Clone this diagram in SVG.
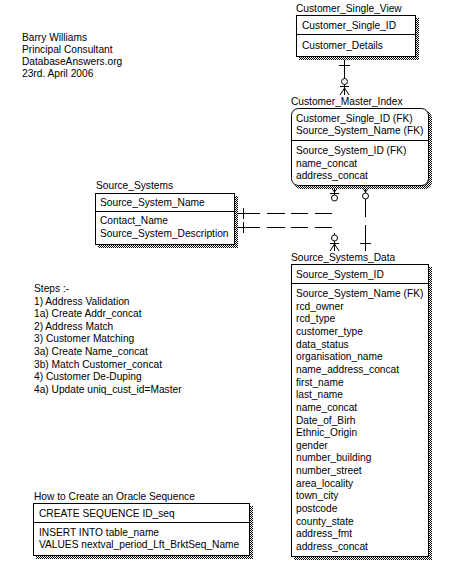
<svg xmlns="http://www.w3.org/2000/svg" width="465" height="576" viewBox="0 0 465 576">
<defs>
<pattern id="dither" width="2" height="2" patternUnits="userSpaceOnUse">
<rect width="2" height="2" fill="#fff"/>
<rect width="1" height="1" fill="#000"/>
<rect x="1" y="1" width="1" height="1" fill="#000"/>
</pattern>
</defs>
<style>
text { font-family: "Liberation Sans", Arial, sans-serif; font-size: 10.2px; fill: #000; }
.box { fill: #fff; stroke: #000; stroke-width: 1; }
.shadow { fill: url(#dither); }
.div { stroke: #000; stroke-width: 1; }
.conn path, .conn line { stroke: #000; stroke-width: 1; fill: none; }
.conn circle { stroke: #000; stroke-width: 1; fill: #fff; }
</style>
<rect width="465" height="576" fill="#fff"/>

<g id="note-author">
<text x="22" y="41">Barry Williams</text>
<text x="22" y="53">Principal Consultant</text>
<text x="22" y="65">DatabaseAnswers.org</text>
<text x="22" y="77">23rd. April 2006</text>
</g>

<g id="note-steps">
<text x="34" y="292">Steps :-</text>
<text x="34" y="304.6">1) Address Validation</text>
<text x="34" y="317.2">1a) Create Addr_concat</text>
<text x="34" y="329.8">2) Address Match</text>
<text x="34" y="342.4">3) Customer Matching</text>
<text x="34" y="355">3a) Create Name_concat</text>
<text x="34" y="367.6">3b) Match Customer_concat</text>
<text x="34" y="380.2">4) Customer De-Duping</text>
<text x="34" y="392.8">4a) Update uniq_cust_id=Master</text>
</g>

<g class="conn" id="connectors">
<!-- Customer_Single_View to Customer_Master_Index -->
<path d="M344.5 57 V95"/>
<path d="M339 65.5 H350"/>
<circle cx="344.5" cy="81.5" r="3"/>
<path d="M340 86.5 H349"/>
<path d="M344.5 88 L340 95 M344.5 88 L349 95"/>
<!-- Source_Systems to Customer_Master_Index -->
<path d="M236 213.5 H260 M267 213.5 H285 M291 213.5 H308 M315 213.5 H332"/>
<path d="M243.5 208 V219"/>
<path d="M334.5 186 V201"/>
<path d="M334.5 192 L330 186 M334.5 192 L339 186"/>
<path d="M330 193.5 H339"/>
<circle cx="334.5" cy="198" r="3"/>
<!-- Source_Systems to Source_Systems_Data -->
<path d="M236 227.5 H260 M267 227.5 H285 M291 227.5 H308 M315 227.5 H332"/>
<path d="M243.5 222 V233"/>
<path d="M334.5 233 V251"/>
<circle cx="334.5" cy="238" r="3"/>
<path d="M330 243.5 H339"/>
<path d="M334.5 244 L330 251 M334.5 244 L339 251"/>
<!-- Source_Systems_Data to Customer_Master_Index -->
<path d="M365.5 186 V193 M365.5 199 V217 M365.5 225 V251"/>
<path d="M365.5 192 L361 186 M365.5 192 L370 186"/>
<circle cx="365.5" cy="196" r="3"/>
<path d="M360 243.5 H371"/>
</g>

<g id="Customer_Single_View">
<text x="296" y="12">Customer_Single_View</text>
<rect class="shadow" x="299" y="18" width="120" height="42"/>
<rect class="box" x="296.5" y="15.5" width="119" height="41"/>
<line class="div" x1="296.5" y1="34.5" x2="415.5" y2="34.5"/>
<text x="302" y="29">Customer_Single_ID</text>
<text x="302" y="49">Customer_Details</text>
</g>

<g id="Customer_Master_Index">
<text x="291" y="105">Customer_Master_Index</text>
<rect class="shadow" x="294" y="111" width="138" height="78" rx="7"/>
<rect class="box" x="291.5" y="108.5" width="137" height="77" rx="7"/>
<line class="div" x1="291.5" y1="140.5" x2="428.5" y2="140.5"/>
<text x="296" y="122">Customer_Single_ID (FK)</text>
<text x="296" y="134">Source_System_Name (FK)</text>
<text x="296" y="154">Source_System_ID (FK)</text>
<text x="296" y="167">name_concat</text>
<text x="296" y="179">address_concat</text>
</g>

<g id="Source_Systems">
<text x="96" y="189">Source_Systems</text>
<rect class="shadow" x="98" y="196" width="140" height="52"/>
<rect class="box" x="95.5" y="193.5" width="139" height="51"/>
<line class="div" x1="95.5" y1="211.5" x2="234.5" y2="211.5"/>
<text x="100" y="206">Source_System_Name</text>
<text x="100" y="224">Contact_Name</text>
<text x="100" y="237">Source_System_Description</text>
</g>

<g id="Source_Systems_Data">
<text x="291" y="261">Source_Systems_Data</text>
<rect class="shadow" x="294" y="267" width="138" height="293"/>
<rect class="box" x="291.5" y="264.5" width="137" height="292"/>
<line class="div" x1="291.5" y1="283.5" x2="428.5" y2="283.5"/>
<text x="296" y="278">Source_System_ID</text>
<text x="296" y="297">Source_System_Name (FK)</text>
<text x="296" y="309.65">rcd_owner</text>
<text x="296" y="322.3">rcd_type</text>
<text x="296" y="334.95">customer_type</text>
<text x="296" y="347.6">data_status</text>
<text x="296" y="360.25">organisation_name</text>
<text x="296" y="372.9">name_address_concat</text>
<text x="296" y="385.55">first_name</text>
<text x="296" y="398.2">last_name</text>
<text x="296" y="410.85">name_concat</text>
<text x="296" y="423.5">Date_of_Birh</text>
<text x="296" y="436.15">Ethnic_Origin</text>
<text x="296" y="448.8">gender</text>
<text x="296" y="461.45">number_building</text>
<text x="296" y="474.1">number_street</text>
<text x="296" y="486.75">area_locality</text>
<text x="296" y="499.4">town_city</text>
<text x="296" y="512.05">postcode</text>
<text x="296" y="524.7">county_state</text>
<text x="296" y="537.35">address_fmt</text>
<text x="296" y="550">address_concat</text>
</g>

<g id="Oracle_Sequence">
<text x="34" y="500">How to Create an Oracle Sequence</text>
<rect class="shadow" x="36" y="506" width="217" height="53"/>
<rect class="box" x="33.5" y="503.5" width="216" height="52"/>
<line class="div" x1="33.5" y1="522.5" x2="249.5" y2="522.5"/>
<text x="39" y="517">CREATE SEQUENCE ID_seq</text>
<text x="39" y="536">INSERT INTO table_name</text>
<text x="39" y="548">VALUES nextval_period_Lft_BrktSeq_Name</text>
</g>
</svg>
